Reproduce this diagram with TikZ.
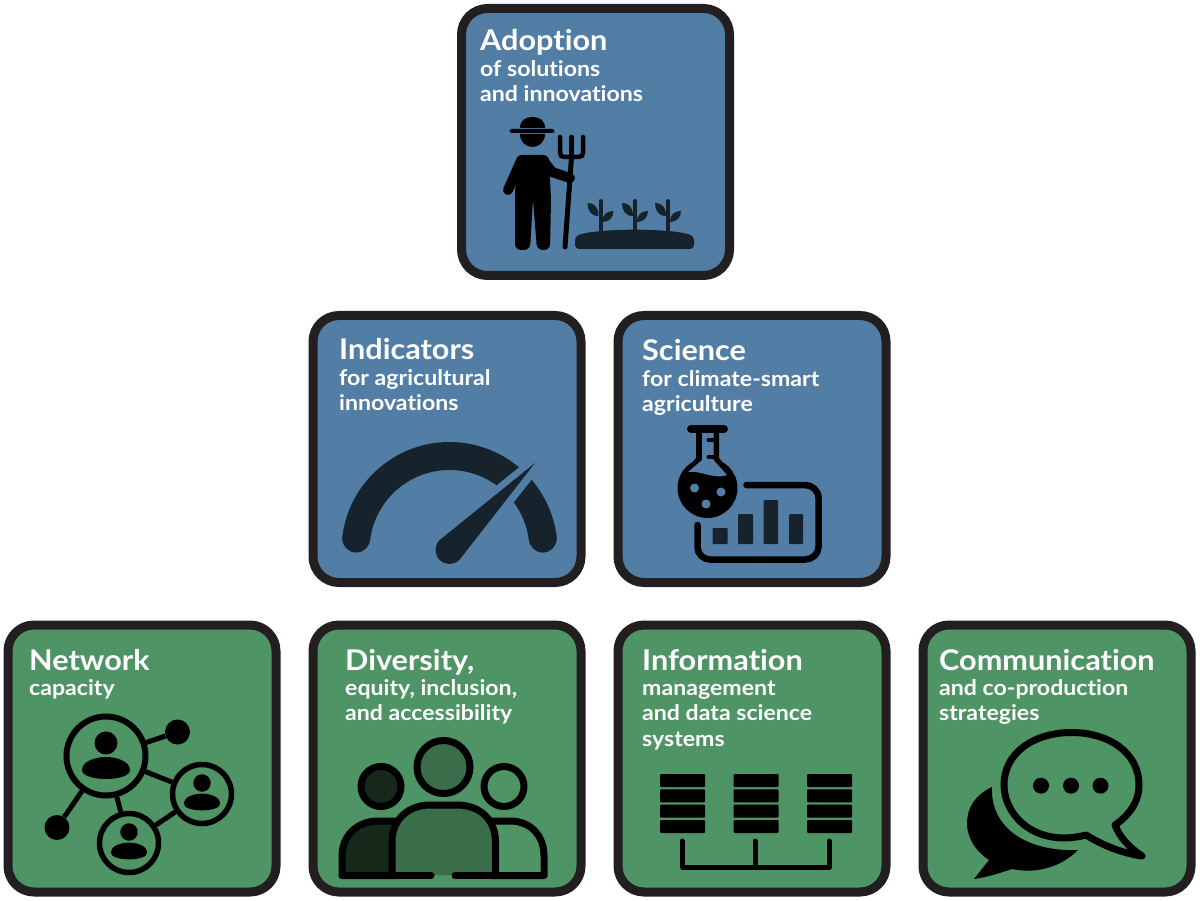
\documentclass[tikz,border=0pt]{standalone}
\usepackage{fontspec}
\setmainfont{Lato}[FakeStretch=1.075,Ligatures=CommonOff]
\usetikzlibrary{positioning}

\definecolor{boxblue}{HTML}{527EA6}
\definecolor{boxgreen}{HTML}{4E9464}
\definecolor{boxline}{HTML}{231F20}
\definecolor{inkblue}{HTML}{16232C}
\definecolor{midgreen}{HTML}{3A6E4A}
\definecolor{inkgreen}{HTML}{16291B}

\begin{document}
\begin{tikzpicture}
	% Styles
	[
	x=1pt,y=-1pt,
	bluebox/.style={rectangle,draw=boxline,fill=boxblue,line width=9pt,rounded corners=26pt,minimum width=268pt,minimum height=267pt,inner sep=0pt},
	greenbox/.style={bluebox,fill=boxgreen},
	headtext/.style={anchor=base west,inner sep=0pt,text=white,font=\fontsize{28.5}{30}\selectfont\bfseries},
	subtext/.style={anchor=base west,inner sep=0pt,text=white,font=\fontsize{21.5}{24}\selectfont\bfseries},
	hubpoint/.style={circle,draw=black,line width=6pt,inner sep=0pt,minimum size=79pt},
	peerpoint/.style={circle,draw=black,line width=5.5pt,inner sep=0pt,minimum size=59pt},
	endpoint/.style={circle,fill=black,inner sep=0pt,minimum size=25pt},
	link/.style={line width=5pt,black},
	]

	\useasboundingbox (0,0) rectangle (1200,901);

	% Boxes
	\node at (595.5,142)	(adoption)	[bluebox]	{};
	\node at (447,449)	(indicators)	[bluebox]	{};
	\node at (752,449)	(science)	[bluebox]	{};
	\node at (142,758.5)	(network)	[greenbox]	{};
	\node at (447,758.5)	(diversity)	[greenbox]	{};
	\node at (752,758.5)	(information)	[greenbox]	{};
	\node at (1057,758.5)	(communication)	[greenbox]	{};

	% Text
	\node at (480,51)	(adoptionh)	[headtext]	{Adoption};
	\node at (480,76.5)	(adoptiona)	[subtext]	{of solutions};
	\node at (480,101.5)	(adoptionb)	[subtext]	{and innovations};
	\node at (339,360)	(indicatorsh)	[headtext]	{Indicators};
	\node at (339,385.5)	(indicatorsa)	[subtext]	{for agricultural};
	\node at (339,410.5)	(indicatorsb)	[subtext]	{innovations};
	\node at (642,361)	(scienceh)	[headtext]	{Science};
	\node at (642,386.5)	(sciencea)	[subtext]	{for climate-smart};
	\node at (642,411.5)	(scienceb)	[subtext]	{agriculture};
	\node at (29,670)	(networkh)	[headtext]	{Network};
	\node at (29,695.5)	(networka)	[subtext]	{capacity};
	\node at (345,670)	(diversityh)	[headtext]	{Diversity,};
	\node at (345,695.5)	(diversitya)	[subtext]	{equity, inclusion,};
	\node at (345,720.5)	(diversityb)	[subtext]	{and accessibility};
	\node at (642,670)	(informationh)	[headtext]	{Information};
	\node at (642,695.5)	(informationa)	[subtext]	{management};
	\node at (642,720.5)	(informationb)	[subtext]	{and data science};
	\node at (642,746.5)	(informationc)	[subtext]	{systems};
	\node at (939,670)	(communicationh)	[headtext]	{Communication};
	\node at (939,695.5)	(communicationa)	[subtext]	{and co-production};
	\node at (939,720.5)	(communicationb)	[subtext]	{strategies};

	% Farmer
	\fill (512,129) -- (552,129) to[out=0,in=0,looseness=2] (552,133) -- (512,133) to[out=180,in=180,looseness=2] (512,129) -- cycle;
	\fill (520,128) .. controls (520,120) and (526,117) .. (532.5,117) .. controls (539,117) and (545,120) .. (545,128) -- cycle;
	\fill (520,134) .. controls (520,142) and (526,147) .. (532.5,147) .. controls (539,147) and (545,142) .. (545,134) -- cycle;
	\fill[rounded corners=6pt] (516,155) -- (549,155) -- (551,200) -- (550,250) -- (537,250) -- (533,199) -- (530,250) -- (515,250) -- (515,200) -- cycle;
	\draw[line width=10pt,line cap=round] (520,163) -- (508,190);
	\draw[line width=10pt,line cap=round,line join=round] (545,163) -- (552,172) -- (570,178);
	\draw[line width=5pt,line cap=round] (571.5,157) -- (565,247);
	\draw[line width=4.5pt,line cap=round,rounded corners=4pt] (560,137) -- (560,157) -- (583,157) -- (583,137);
	\draw[line width=4.5pt,line cap=round] (571.5,137) -- (571.5,157);

	% Plants
	\fill[inkblue,rounded corners=4pt] (575,249) -- (575,236) .. controls (600,228) and (670,228) .. (694,236) -- (694,249) -- cycle;
	\foreach \px in {600.5,635,668}
	{
		\draw[inkblue,line width=4pt,line cap=round] (\px,201) -- (\px,232);
		\fill[inkblue] (\px-2,216) .. controls (\px-10,216) and (\px-13,210) .. (\px-13,203) .. controls (\px-6,203) and (\px-2,207) .. (\px-2,216) -- cycle;
		\fill[inkblue] (\px+2,222) .. controls (\px+9,222) and (\px+13,217) .. (\px+13,211) .. controls (\px+7,211) and (\px+2,214) .. (\px+2,222) -- cycle;
	}

	% Gauge
	\begin{scope}[shift={(449.5,550)},y=1pt,inkblue]
		\fill (173:108) arc (173:50:108) -- (54:80) arc (54:173:80) -- cycle;
		\fill (40.5:108) arc (40.5:7:108) -- (7:80) arc (7:36.5:80) -- cycle;
		\fill (173:94) circle (14);
		\fill (7:94) circle (14);
		\fill (85.5,87) -- (135:14) arc (135:315:14) -- cycle;
	\end{scope}

	% Flask
	\draw[line width=6.5pt,line cap=round] (746.5,485) -- (805,485) to[out=0,in=90] (818.5,498) -- (818.5,547) to[out=270,in=0] (805,559.5) -- (710,559.5) to[out=180,in=270] (697.5,547) -- (697.5,525);
	\fill[inkblue,rounded corners=1pt] (712.5,528) rectangle (727.5,544);
	\fill[inkblue,rounded corners=1pt] (738,514) rectangle (753,544);
	\fill[inkblue,rounded corners=1pt] (763.5,500) rectangle (778,544);
	\fill[inkblue,rounded corners=1pt] (789,514) rectangle (803,544);
	\draw[line width=8pt,line cap=round] (691,429) -- (724,429);
	\fill (707.5,488) circle (30);
	\fill (696,430) -- (719,430) -- (719,458) -- (734,476) -- (681,476) -- (696,458) -- cycle;
	\fill[boxblue] (702,433) -- (713.5,433) -- (713.5,460) -- (727,475) .. controls (715,480) and (700,470) .. (688,472) -- (702,460) -- cycle;
	\draw[line width=4pt,line cap=round] (708.5,440) -- (714,440);
	\draw[line width=4pt,line cap=round] (708.5,457) -- (714,457);
	\foreach \px/\py in {694.5/488,721/492,706/504}
		\fill[boxblue] (\px,\py) circle (4.5);

	% Network
	\node at (106,756)	(hub)	[hubpoint]	{};
	\node at (202,794)	(peera)	[peerpoint]	{};
	\node at (129,843)	(peerb)	[peerpoint]	{};
	\node at (177.5,732)	(enda)	[endpoint]	{};
	\node at (57,827.5)	(endb)	[endpoint]	{};
	\draw[link] (hub) -- (enda);
	\draw[link] (hub) -- (endb);
	\draw[link] (hub) -- (peera);
	\draw[link] (hub) -- (peerb);
	\draw[link] (peera) -- (peerb);
	\foreach \px/\py/\ps in {106/743/1,202/783/0.76,129/832/0.76}
	{
		\begin{scope}[shift={(\px,\py)},scale=\ps]
			\fill (0,0) circle (11.5);
			\fill (-24,27) .. controls (-24,19) and (-12,14) .. (0,14) .. controls (12,14) and (24,19) .. (24,27) .. controls (24,33) and (12,36) .. (0,36) .. controls (-12,36) and (-24,33) .. (-24,27) -- cycle;
		\end{scope}
	}

	% People
	\draw[line width=7pt,fill=inkgreen] (381,786.5) circle (20);
	\draw[line width=7pt] (504,786.5) circle (20);
	\draw[line width=7pt,fill=midgreen] (443.5,767) circle (26.5);
	\draw[line width=7pt,fill=inkgreen,line join=round] (395,875.5) -- (342,875.5) -- (342,856) .. controls (342,835) and (358,821) .. (378,821) -- (398,821);
	\draw[line width=7pt,line join=round] (490,821) -- (510,821) .. controls (530,821) and (544,835) .. (544,856) -- (544,875.5) -- (492,875.5);
	\fill[midgreen] (392,875) -- (392,842) .. controls (392,818) and (410,805) .. (430,805) -- (457,805) .. controls (478,805) and (495.5,818) .. (495.5,842) -- (495.5,875) -- cycle;
	\draw[line width=7pt] (392,875.5) -- (392,842) .. controls (392,818) and (410,805) .. (430,805) -- (457,805) .. controls (478,805) and (495.5,818) .. (495.5,842) -- (495.5,875.5);
	\draw[line width=7pt,line cap=round] (342,875.5) -- (431,875.5);
	\draw[line width=7pt,line cap=round] (455,875.5) -- (544,875.5);

	% Tables
	\foreach \px in {660,733.5,807}
		\foreach \py in {774,789.3,804.6,820}
			\fill[rounded corners=1pt] (\px,\py) rectangle (\px+45,\py+13);
	\draw[line width=5pt,line cap=round,line join=round] (682,841) -- (682,867) -- (829,867) -- (829,841);
	\draw[line width=5pt,line cap=round] (755,841) -- (755,867);

	% Speech
	\draw[line width=7pt,line join=round] (1086,835) .. controls (1035,848) and (1004,815) .. (1004,785) .. controls (1004,752) and (1035,732.5) .. (1071.5,732.5) .. controls (1108,732.5) and (1139,752) .. (1139,785) .. controls (1139,803) and (1128,816) .. (1115,825) .. controls (1120,838) and (1130,848) .. (1142,856) .. controls (1122,853) and (1104,846) .. (1086,835) -- cycle;
	\foreach \px in {1041,1071,1100.5}
		\fill (\px,785.7) circle (8);
	\fill (992,787) .. controls (975,795) and (967,808) .. (967,823) .. controls (967,840) and (978,853) .. (989,860) -- (974,879) .. controls (988,877) and (1000,873) .. (1012,869) .. controls (1035,874) and (1060,868) .. (1078,850) .. controls (1030,852) and (990,830) .. (992,787) -- cycle;
\end{tikzpicture}
\end{document}
